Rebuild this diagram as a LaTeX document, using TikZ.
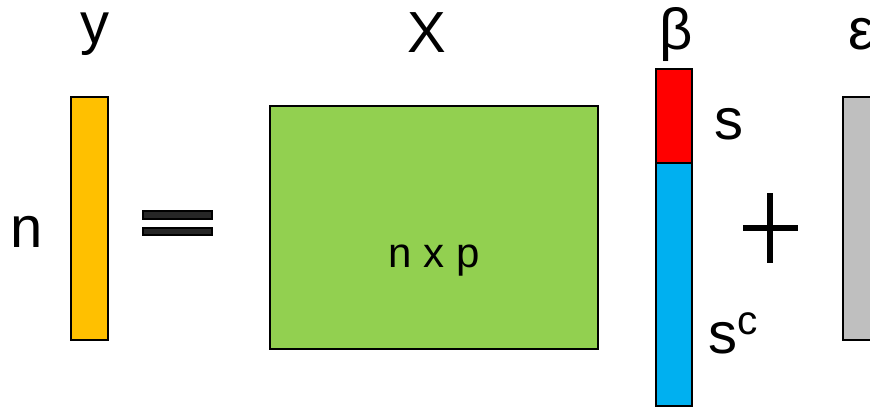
\documentclass[tikz,border=0pt]{standalone}
\usepackage{fontspec}
\setmainfont{Liberation Sans}
\usepackage{tikz}
\definecolor{regyellow}{HTML}{FFC000}
\definecolor{reggreen}{HTML}{92D050}
\definecolor{regred}{HTML}{FF0000}
\definecolor{regblue}{HTML}{00B0F0}
\definecolor{reggray}{HTML}{BFBFBF}
\definecolor{regdark}{HTML}{262626}
\begin{document}
\begin{tikzpicture}[x=0.5pt, y=-0.5pt,
  block/.style={draw=black, line width=1pt},
  symb/.style={anchor=base, inner sep=0pt, font=\fontsize{29}{34}\selectfont},
  dimlabel/.style={anchor=base, inner sep=0pt, font=\fontsize{21}{25}\selectfont}
]
\clip (0,0) rectangle (870,406);
\fill[white] (0,0) rectangle (870,406);

\draw[block, fill=regyellow] (71,97) rectangle (108,340);
\draw[block, fill=regdark, line width=0.6pt] (143,211) rectangle (212,219);
\draw[block, fill=regdark, line width=0.6pt] (143,228) rectangle (212,235);
\draw[block, fill=reggreen] (270,106) rectangle (598,349);
\draw[block, fill=regred] (656,69) rectangle (692,163);
\draw[block, fill=regblue] (656,163) rectangle (692,406);
\draw[line width=3pt] (743,228) -- (798,228) (770,193) -- (770,263);
\draw[block, fill=reggray] (843,97) rectangle (900,340);

\node[symb] (ylab) at (95,44) {y};
\node[symb] (nlab) at (27,247) {n};
\node[symb] (xlab) at (427,53) {X};
\node[dimlabel] (dims) at (434,267) {n x p};
\node[symb] (blab) at (676,50) {β};
\node[symb] (slab) at (729,140) {s};
\node[symb, anchor=base west] (sclab) at (708,353) {s\textsuperscript{c}};
\node[symb, anchor=base west] (elab) at (848,50) {ε};
\end{tikzpicture}
\end{document}
